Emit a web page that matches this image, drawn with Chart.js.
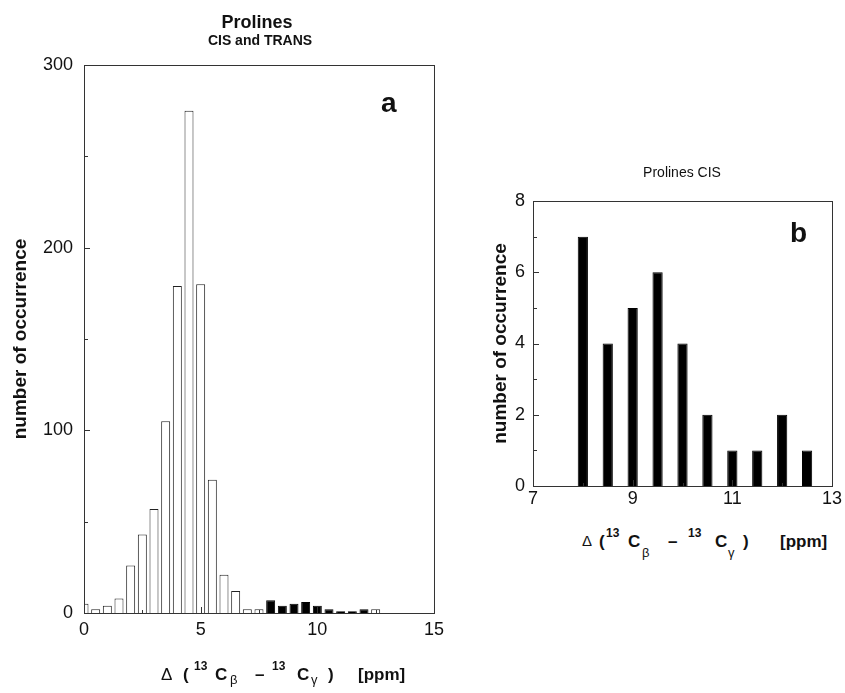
<!DOCTYPE html>
<html lang="en">
<head>
  <meta charset="UTF-8" />
  <title>Prolines histograms</title>
  <script src="https://cdn.jsdelivr.net/npm/chart.js"></script>
  <style>
    body {
      margin: 0;
      background: #fff;
      font-family: 'Liberation Sans', Arial, sans-serif;
      color: #111;
    }
    #page {
      position: relative;
      width: 845px;
      height: 693px;
      overflow: hidden;
    }
    canvas { position: absolute; }
    #chartA { left: 0; top: 0; }
    #chartB { left: 460px; top: 150px; }
    .t {
      position: absolute;
      line-height: 1;
      white-space: nowrap;
    }
    .c { transform: translateX(-50%); }
    /* axis title pieces */
    .m { font-size: 17px; font-weight: bold; }
    .d { font-size: 17px; }
    .s { font-size: 12px; font-weight: bold; }
    .u { font-size: 13px; }
  </style>
</head>
<body>
<div id="page">
  <canvas id="chartA" width="450" height="693"></canvas>
  <canvas id="chartB" width="385" height="370"></canvas>

  <!-- titles -->
  <div class="t c" style="left:257px; top:13px; font-size:18px; font-weight:bold;">Prolines</div>
  <div class="t c" style="left:260px; top:33px; font-size:14px; font-weight:bold;">CIS and TRANS</div>
  <div class="t" style="left:381px; top:89px; font-size:28px; font-weight:bold;">a</div>

  <div class="t c" style="left:682px; top:165px; font-size:14px;">Prolines CIS</div>
  <div class="t" style="left:790px; top:219px; font-size:28px; font-weight:bold;">b</div>

  <!-- x axis title, panel a -->
  <span class="t d" style="left:161px; top:666px;">Δ</span>
  <span class="t m" style="left:183px; top:666px;">(</span>
  <span class="t s" style="left:194px; top:660px;">13</span>
  <span class="t m" style="left:215px; top:666px;">C</span>
  <span class="t u" style="left:230px; top:673px;">β</span>
  <span class="t m" style="left:255px; top:666px;">–</span>
  <span class="t s" style="left:272px; top:660px;">13</span>
  <span class="t m" style="left:297px; top:666px;">C</span>
  <span class="t u" style="left:311px; top:673px;">γ</span>
  <span class="t m" style="left:328px; top:666px;">)</span>
  <span class="t m" style="left:358px; top:666px;">[ppm]</span>

  <!-- x axis title, panel b -->
  <span class="t d" style="left:582px; top:533px; font-size:15px;">Δ</span>
  <span class="t m" style="left:599px; top:533px;">(</span>
  <span class="t s" style="left:606px; top:527px;">13</span>
  <span class="t m" style="left:628px; top:533px;">C</span>
  <span class="t u" style="left:642px; top:546px;">β</span>
  <span class="t m" style="left:668px; top:533px;">–</span>
  <span class="t s" style="left:688px; top:527px;">13</span>
  <span class="t m" style="left:715px; top:533px;">C</span>
  <span class="t u" style="left:728px; top:546px;">γ</span>
  <span class="t m" style="left:743px; top:533px;">)</span>
  <span class="t m" style="left:780px; top:533px;">[ppm]</span>
</div>

<script>
  // ---- data ----
  // panel a: all prolines, bins of 0.5 ppm
  const binsA = [0, 0.5, 1, 1.5, 2, 2.5, 3, 3.5, 4, 4.5, 5, 5.5, 6, 6.5, 7, 7.5,
                 8, 8.5, 9, 9.5, 10, 10.5, 11, 11.5, 12, 12.5];
  const openA = [5, 2, 4, 8, 26, 43, 57, 105, 179, 275, 180, 73, 21, 12, 2, 2,
                 null, null, null, null, null, null, null, null, null, 2];
  const filledA = [null, null, null, null, null, null, null, null, null, null, null, null, null, null, null, null,
                   7, 4, 5, 6, 4, 2, 1, 1, 2, null];

  // panel b: cis prolines
  const binsB = [8, 8.5, 9, 9.5, 10, 10.5, 11, 11.5, 12, 12.5];
  const cisB = [7, 4, 5, 6, 4, 2, 1, 1, 2, 1];

  // minor tick marks
  const minorXA = [2.5, 7.5, 12.5];
  const minorYA = [50, 150, 250];
  const minorXB = [8, 10, 12];
  const minorYB = [1, 3, 5, 7];

  Chart.defaults.font.family = "'Liberation Sans', Arial, sans-serif";
  Chart.defaults.color = '#111';

  // box round the plot and tick marks pointing inward
  const frame = {
    id: 'frame',
    afterDatasetsDraw(chart, args, opts) {
      const { ctx, chartArea: a, scales: { x, y } } = chart;
      ctx.save();
      ctx.strokeStyle = '#333';
      ctx.lineWidth = 1;
      ctx.strokeRect(a.left + 0.5, a.top + 0.5, a.right - a.left, a.bottom - a.top);
      ctx.beginPath();
      const xt = (v, len) => {
        const px = Math.round(x.getPixelForValue(v)) + 0.5;
        ctx.moveTo(px, a.bottom);
        ctx.lineTo(px, a.bottom - len);
      };
      const yt = (v, len) => {
        const py = Math.round(y.getPixelForValue(v)) + 0.5;
        ctx.moveTo(a.left, py);
        ctx.lineTo(a.left + len, py);
      };
      x.ticks.forEach(t => xt(t.value, 6));
      y.ticks.forEach(t => yt(t.value, 6));
      opts.minorX.forEach(v => xt(v, 3));
      opts.minorY.forEach(v => yt(v, 4));
      ctx.stroke();
      ctx.restore();
    }
  };

  const points = (xs, ys) => xs.map((x, i) => ({ x: x, y: ys[i] }));

  function makeOptions(cfg) {
    return {
      responsive: false,
      animation: false,
      events: [],
      layout: { padding: cfg.padding },
      plugins: {
        legend: { display: false },
        tooltip: { enabled: false },
        frame: { minorX: cfg.minorX, minorY: cfg.minorY }
      },
      scales: {
        x: {
          type: 'linear',
          offset: false,
          min: cfg.xMin, max: cfg.xMax,
          grid: { display: false, drawTicks: false },
          border: { display: false },
          ticks: { stepSize: cfg.xStep, autoSkip: false, padding: cfg.xPad, font: { size: 18 }, color: '#111' },
          afterFit: s => { s.height = cfg.xHeight; }
        },
        y: {
          min: 0, max: cfg.yMax,
          grid: { display: false, drawTicks: false },
          border: { display: false },
          ticks: { stepSize: cfg.yStep, padding: cfg.yPad, font: { size: 18 }, color: '#111' },
          title: {
            display: true,
            text: 'number of occurrence',
            font: { size: 19, weight: 'bold' },
            color: '#111',
            padding: { top: cfg.titlePad, bottom: 0 }
          },
          afterFit: s => { s.width = cfg.yWidth; }
        }
      }
    };
  }

  new Chart(document.getElementById('chartA'), {
    type: 'bar',
    data: {
      datasets: [
        {
          data: points(binsA, openA),
          backgroundColor: '#ffffff',
          borderColor: '#222',
          borderWidth: 1,
          grouped: false,
          barPercentage: 0.77,
          categoryPercentage: 1
        },
        {
          data: points(binsA, filledA),
          backgroundColor: '#000000',
          borderColor: '#000000',
          borderWidth: 1,
          grouped: false,
          barPercentage: 0.77,
          categoryPercentage: 1
        }
      ]
    },
    options: makeOptions({
      padding: { top: 65, right: 16, left: 0, bottom: 0 },
      xMin: 0, xMax: 15, xStep: 5, xPad: 6, xHeight: 80,
      yMax: 300, yStep: 100, yPad: 11, yWidth: 84, titlePad: 9,
      minorX: minorXA, minorY: minorYA
    }),
    plugins: [frame]
  });

  new Chart(document.getElementById('chartB'), {
    type: 'bar',
    data: {
      datasets: [
        {
          data: points(binsB, cisB),
          backgroundColor: '#000000',
          borderColor: '#000000',
          borderWidth: 1,
          grouped: false,
          barPercentage: 0.41,
          categoryPercentage: 1
        }
      ]
    },
    options: makeOptions({
      padding: { top: 51, right: 13, left: 0, bottom: 0 },
      xMin: 7, xMax: 13, xStep: 2, xPad: 2, xHeight: 34,
      yMax: 8, yStep: 2, yPad: 8, yWidth: 73, titlePad: 29,
      minorX: minorXB, minorY: minorYB
    }),
    plugins: [frame]
  });
</script>
</body>
</html>
